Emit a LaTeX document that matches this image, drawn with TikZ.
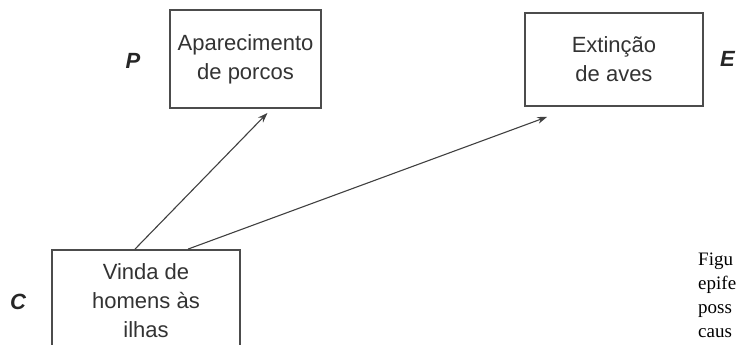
\documentclass[tikz,border=0pt]{standalone}
\usepackage{fontspec}
\setmainfont{Liberation Serif}
\setsansfont{Liberation Sans}
\usepackage{tikz}
\usetikzlibrary{arrows.meta, positioning}

\begin{document}
\begin{tikzpicture}
                            [x=1pt, y=-1pt,
                             evento/.style={draw=black!70, line width=1.8pt, fill=white, align=center,
                                            inner sep=0pt, font=\sffamily\fontsize{22}{29}\selectfont,
                                            text=black!80},
                             letra/.style={font=\sffamily\bfseries\itshape\fontsize{22}{22}\selectfont, text=black!85},
                             causa/.style={draw=black!75, line width=1.1pt, -{Stealth[length=10pt, width=7pt]}}]

                            \useasboundingbox (0,0) rectangle (737,345);
                            \clip (0,0) rectangle (737,345);

                            \node[evento, minimum width=151pt, minimum height=98pt] (P) at (245.5,59) {Aparecimento\\de porcos};
                            \node[evento, minimum width=178pt, minimum height=93pt] (E) at (614,59.5) {Extinção\\de aves};
                            \node[evento, minimum width=188pt, minimum height=102pt] (C) at (146,301) {Vinda de\\homens às\\ilhas};

                            \node[letra] (lP) at (133,61) {P};
                            \node[letra, anchor=west, inner sep=0pt] (lE) at (720,59) {E};
                            \node[letra] (lC) at (18,302) {C};

                            \draw[causa] ([xshift=-11pt]C.north) -- ([xshift=22pt, yshift=-4pt]P.south);
                            \draw[causa] ([xshift=42pt]C.north) -- ([xshift=23pt, yshift=-10pt]E.south west);

                            % legenda cortada
                            \node[anchor=north west, align=left, inner sep=0pt,
                                  font=\fontsize{19}{24}\selectfont] (leg) at (698,253) {Figu\\epife\\poss\\caus};
                        \end{tikzpicture}
\end{document}
